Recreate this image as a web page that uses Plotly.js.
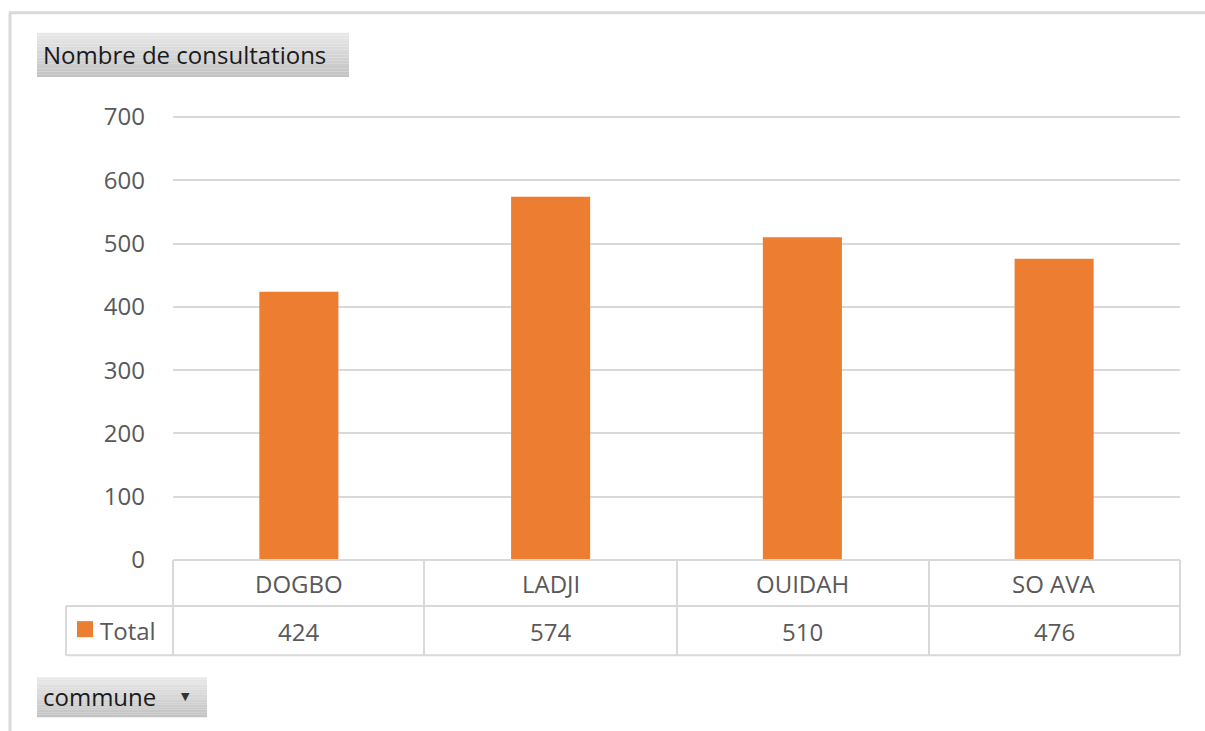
<!DOCTYPE html>
<html>
<head>
<meta charset="utf-8">
<script src="https://cdn.plot.ly/plotly-3.0.1.min.js"></script>
<style>html,body{margin:0;padding:0;background:#fff;}#chart{width:1205px;height:731px;}</style>
</head>
<body>
<div id="chart"></div>
<script>
const categories = ["DOGBO", "LADJI", "OUIDAH", "SO AVA"];
const totals = [424, 574, 510, 476];
const seriesName = "Total";
const yTicks = [0, 100, 200, 300, 400, 500, 600, 700];
const valueTitle = "Nombre de consultations";
const fieldButton = "commune";

const W = 1205, H = 731;
const L = 173, R = 1180, T = 117, B = 560;
const xp = px => (px - L) / (R - L);
const yp = py => (B - py) / (B - T);
const FONT = "Open Sans, Noto Sans, sans-serif";
const GRID = "#d9d9d9";
const ORANGE = "#ED7D31";
const TXT = "#595959";
const FS = 24;

const shapes = [];
const annotations = [];

// outer frame
shapes.push({type:"line", xref:"paper", yref:"paper", x0:xp(10), x1:xp(10), y0:yp(14), y1:yp(731), line:{color:GRID, width:3}});
shapes.push({type:"line", xref:"paper", yref:"paper", x0:xp(9), x1:xp(1205), y0:yp(14), y1:yp(14), line:{color:GRID, width:3}});

// gradient button helper
function button(x0, y0, x1, y1) {
  const n = 16;
  const top = [232, 232, 232], bot = [194, 194, 194];
  for (let i = 0; i < n; i++) {
    const t = i / (n - 1);
    const c = top.map((v, k) => Math.round(v + (bot[k] - v) * t));
    const ya = y0 + (y1 - y0) * i / n, yb = y0 + (y1 - y0) * (i + 1) / n;
    shapes.push({type:"rect", xref:"paper", yref:"paper", x0:xp(x0), x1:xp(x1), y0:yp(ya), y1:yp(yb),
      fillcolor:`rgb(${c[0]},${c[1]},${c[2]})`, line:{width:0}, layer:"below"});
  }
}
button(37, 34, 349, 78);
annotations.push({xref:"paper", yref:"paper", x:xp(41), y:yp(56), xanchor:"left", yanchor:"middle",
  text:valueTitle, showarrow:false, font:{family:FONT, size:FS, color:"#1a1a1a"}});
button(37, 677, 207, 717);
annotations.push({xref:"paper", yref:"paper", x:xp(41), y:yp(696), xanchor:"left", yanchor:"middle",
  text:fieldButton, showarrow:false, font:{family:FONT, size:FS, color:"#1a1a1a"}});
annotations.push({xref:"paper", yref:"paper", x:xp(185), y:yp(696), xanchor:"center", yanchor:"middle",
  text:"▼", showarrow:false, font:{family:"DejaVu Sans", size:11, color:"#333"}});

// data table
const rowTop = 560, rowMid = 606, rowBot = 655, leftCol = 66;
const vlines = [L, 424, 677, 929, R];
const tl = {color:GRID, width:2};
shapes.push({type:"line", xref:"paper", yref:"paper", x0:xp(L), x1:xp(R), y0:yp(rowTop), y1:yp(rowTop), line:tl});
shapes.push({type:"line", xref:"paper", yref:"paper", x0:xp(leftCol), x1:xp(R), y0:yp(rowMid), y1:yp(rowMid), line:tl});
shapes.push({type:"line", xref:"paper", yref:"paper", x0:xp(leftCol), x1:xp(R), y0:yp(rowBot), y1:yp(rowBot), line:tl});
shapes.push({type:"line", xref:"paper", yref:"paper", x0:xp(leftCol), x1:xp(leftCol), y0:yp(rowMid), y1:yp(rowBot), line:tl});
vlines.forEach(v => shapes.push({type:"line", xref:"paper", yref:"paper", x0:xp(v), x1:xp(v), y0:yp(rowTop), y1:yp(rowBot), line:tl}));

categories.forEach((c, i) => {
  annotations.push({xref:"x", yref:"paper", x:c, y:yp(583), xanchor:"center", yanchor:"middle",
    text:c, showarrow:false, font:{family:FONT, size:FS, color:TXT}});
  annotations.push({xref:"x", yref:"paper", x:c, y:yp(631), xanchor:"center", yanchor:"middle",
    text:String(totals[i]), showarrow:false, font:{family:FONT, size:FS, color:TXT}});
});
// legend key in table
shapes.push({type:"rect", xref:"paper", yref:"paper", x0:xp(77), x1:xp(93), y0:yp(621), y1:yp(637), fillcolor:ORANGE, line:{width:0}});
annotations.push({xref:"paper", yref:"paper", x:xp(98), y:yp(630), xanchor:"left", yanchor:"middle",
  text:seriesName, showarrow:false, font:{family:FONT, size:FS, color:TXT}});

const trace = {
  type:"bar", x:categories, y:totals, name:seriesName,
  marker:{color:ORANGE}, hoverinfo:"x+y"
};

const layout = {
  width:W, height:H,
  margin:{l:L, r:W - R, t:T - 1, b:H - B, pad:0},
  paper_bgcolor:"#fff", plot_bgcolor:"#fff",
  showlegend:false,
  bargap:0.686,
  xaxis:{type:"category", showticklabels:false, showgrid:false, zeroline:false, showline:false, ticks:"", fixedrange:true},
  yaxis:{range:[0,701.6], tickvals:yTicks, ticktext:yTicks.map(String), showgrid:true, gridcolor:GRID, gridwidth:2,
    zeroline:false, showline:false, ticks:"", ticklabelstandoff:27,
    tickfont:{family:FONT, size:FS, color:TXT}, fixedrange:true},
  shapes:shapes, annotations:annotations,
  font:{family:FONT}
};

Plotly.newPlot("chart", [trace], layout, {displayModeBar:false, staticPlot:true});
</script>
</body>
</html>
